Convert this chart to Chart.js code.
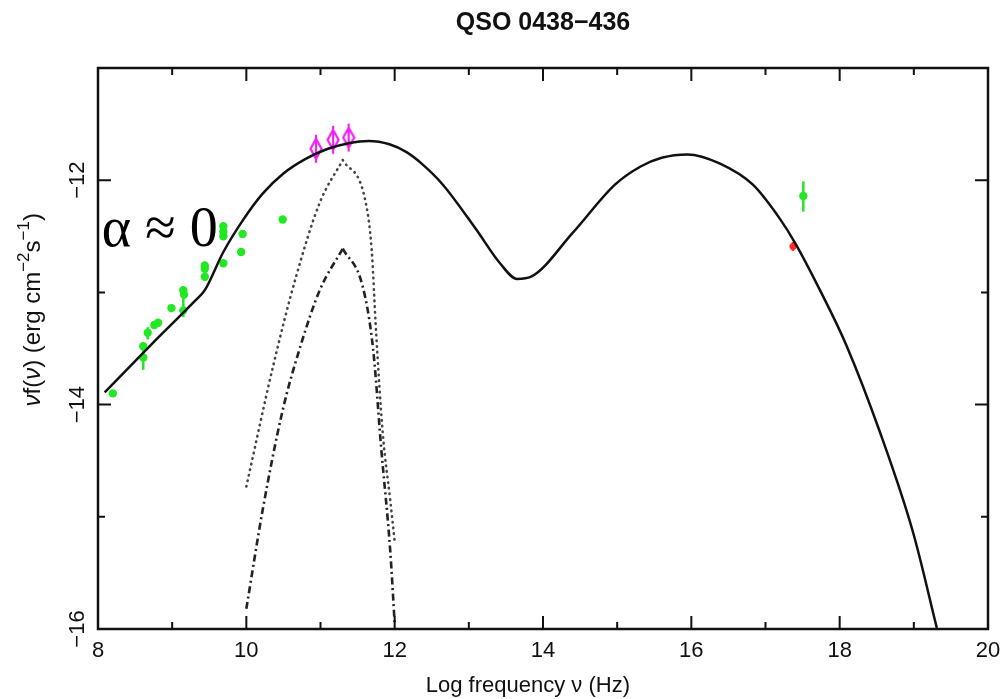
<!DOCTYPE html>
<html>
<head>
<meta charset="utf-8">
<script src="https://cdn.jsdelivr.net/npm/chart.js@4.4.1/dist/chart.umd.min.js"></script>
<style>
  html, body { margin: 0; padding: 0; background: #ffffff; }
  #wrap { width: 1004px; height: 699px; }
</style>
</head>
<body>
<div id="wrap"><canvas id="sed" width="1004" height="699"></canvas></div>
<script>
// ---- labels ----
const chartTitle = 'QSO 0438\u2212436';
const xAxisTitle = 'Log frequency \u03bd (Hz)';
const slopeNote = '\u03b1 \u2248 0';

// ---- axis ranges / tick values ----
const xMin = 8, xMax = 20;
const yMin = -16, yMax = -11;
const xLabelValues = [8, 10, 12, 14, 16, 18, 20];
const yLabelValues = [-16, -14, -12];

// ---- total model SED (solid) ----
const modelX = [8.09, 8.77, 9.30, 9.44, 9.69, 9.95, 10.22, 10.50, 10.80, 11.10, 11.38, 11.65, 11.93, 12.16, 12.36, 12.65,
                13.10, 13.42, 13.65, 13.84, 14.40, 14.97, 15.31, 15.60, 15.95, 16.38, 16.83, 17.19, 17.40, 17.75,
                18.09, 18.54, 18.99, 19.31];
const modelY = [-13.89, -13.43, -13.08, -12.98, -12.64, -12.36, -12.12, -11.94, -11.81, -11.72, -11.67, -11.65, -11.68, -11.75, -11.85, -12.04,
                -12.44, -12.74, -12.88, -12.86, -12.47, -12.04, -11.88, -11.80, -11.77, -11.85, -12.04, -12.34, -12.56, -13.00,
                -13.47, -14.24, -15.14, -15.99];

// ---- component (dotted) ----
const dotX = [10.00, 10.36, 10.67, 10.99, 11.30, 11.60, 11.69, 11.75, 11.84, 11.94, 12.00];
const dotY = [-14.73, -13.66, -12.86, -12.20, -11.82, -12.17, -12.62, -13.36, -14.26, -14.85, -15.22];

// ---- component (dash-dot) ----
const dashDotX = [10.00, 10.22, 10.49, 10.72, 10.99, 11.30, 11.57, 11.71, 11.82, 11.94, 12.00];
const dashDotY = [-15.82, -14.94, -14.05, -13.50, -12.98, -12.61, -12.95, -13.51, -14.40, -15.30, -15.95];

// ---- radio / gamma photometry (green) ----
const greenX = [8.20, 8.61, 8.61, 8.67, 8.76, 8.81, 8.99, 9.15, 9.16, 9.15, 9.44, 9.44, 9.44,
                9.69, 9.69, 9.69, 9.69, 9.93, 9.95, 10.49, 17.51];
const greenY = [-13.90, -13.48, -13.58, -13.36, -13.29, -13.27, -13.14, -12.98, -13.02, -13.16, -12.76, -12.79, -12.86,
                -12.41, -12.46, -12.50, -12.74, -12.64, -12.48, -12.35, -12.14];
const greenLo = [null, null, -13.69, -13.42, null, null, null, null, null, -13.22, null, null, null,
                 null, null, null, null, null, null, null, -12.28];
const greenHi = [null, null, -13.48, -13.31, null, null, null, null, null, -12.97, null, null, null,
                 null, null, null, null, null, null, null, -12.01];

// ---- mm photometry (magenta) ----
const mmX = [10.94, 11.17, 11.38];
const mmY = [-11.72, -11.64, -11.62];

// ---- X-ray point (red) ----
const xrayX = [17.37];
const xrayY = [-12.59];
const xrayLo = [-12.63];
const xrayHi = [-12.55];

// ---- helpers ----
const pts = (xs, ys) => xs.map((x, i) => ({ x: x, y: ys[i] }));
const minus = s => String(s).replace('-', '\u2212');
// split a peaked curve into its rising and falling branches (both keep the apex)
function branches(xs, ys) {
  let k = 0;
  ys.forEach((v, i) => { if (v > ys[k]) k = i; });
  const all = pts(xs, ys);
  return [all.slice(0, k + 1), all.slice(k)];
}
const dotParts = branches(dotX, dotY);
const dashDotParts = branches(dashDotX, dashDotY);

const SANS = '"Liberation Sans", Arial, sans-serif';

// open elongated diamond with a vertical bar through it
function diamondMarker(color) {
  const c = document.createElement('canvas');
  c.width = 14; c.height = 30;
  const g = c.getContext('2d');
  g.strokeStyle = color;
  g.lineWidth = 2.2;
  g.beginPath();
  g.moveTo(7, 1); g.lineTo(7, 29);
  g.moveTo(7, 5); g.lineTo(12.5, 15); g.lineTo(7, 25); g.lineTo(1.5, 15); g.closePath();
  g.stroke();
  return c;
}

// vertical error bars for datasets carrying errLo / errHi
const errorBarPlugin = {
  id: 'errorBars',
  beforeDatasetsDraw(chart) {
    const ctx = chart.ctx;
    const xs = chart.scales.x, ys = chart.scales.y;
    chart.data.datasets.forEach(ds => {
      if (!ds.errLo) return;
      ctx.save();
      ctx.strokeStyle = ds.barColor;
      ctx.lineWidth = 2.5;
      ds.data.forEach((p, i) => {
        if (ds.errLo[i] == null) return;
        const px = xs.getPixelForValue(p.x);
        ctx.beginPath();
        ctx.moveTo(px, ys.getPixelForValue(ds.errLo[i]));
        ctx.lineTo(px, ys.getPixelForValue(ds.errHi[i]));
        ctx.stroke();
      });
      ctx.restore();
    });
  }
};

// box round the plot with inward major / minor ticks on all four sides
const framePlugin = {
  id: 'frame',
  afterDatasetsDraw(chart) {
    const { ctx, chartArea: a } = chart;
    const xs = chart.scales.x, ys = chart.scales.y;
    const major = 13, minorLen = 7;
    ctx.save();
    ctx.strokeStyle = '#111';
    ctx.lineWidth = 2.5;
    ctx.strokeRect(a.left, a.top, a.right - a.left, a.bottom - a.top);
    ctx.lineWidth = 2;
    ctx.beginPath();
    xs.ticks.forEach(t => {
      const px = xs.getPixelForValue(t.value);
      const len = (t.value % 2 === 0) ? major : minorLen;
      ctx.moveTo(px, a.bottom); ctx.lineTo(px, a.bottom - len);
      ctx.moveTo(px, a.top); ctx.lineTo(px, a.top + len);
    });
    ys.ticks.forEach(t => {
      const py = ys.getPixelForValue(t.value);
      const len = (t.value % 2 === 0) ? major : minorLen;
      ctx.moveTo(a.left, py); ctx.lineTo(a.left + len, py);
      ctx.moveTo(a.right, py); ctx.lineTo(a.right - len, py);
    });
    ctx.stroke();
    ctx.restore();
  }
};

// axis titles (y title carries superscripts) and the spectral-index note
const textPlugin = {
  id: 'texts',
  afterDraw(chart) {
    const { ctx, chartArea: a } = chart;
    const xs = chart.scales.x, ys = chart.scales.y;

    // note anchored in data space
    ctx.save();
    ctx.fillStyle = '#000';
    ctx.font = '56px "Liberation Serif", "DejaVu Serif", serif';
    ctx.textBaseline = 'alphabetic';
    ctx.textAlign = 'left';
    ctx.fillText(slopeNote, xs.getPixelForValue(8.05), ys.getPixelForValue(-12.59));
    ctx.restore();

    // x title
    ctx.save();
    ctx.fillStyle = '#111';
    ctx.font = '22px ' + SANS;
    ctx.textAlign = 'center';
    ctx.textBaseline = 'middle';
    ctx.fillText(xAxisTitle, a.left + (a.right - a.left) * 0.483, 686);
    ctx.restore();

    // rotated y title
    const base = '24px ' + SANS;
    const ital = 'italic 24px ' + SANS;
    const sup = '17px ' + SANS;
    const parts = [
      { t: '\u03bd', f: ital, dy: 0 },
      { t: 'f(', f: base, dy: 0 },
      { t: '\u03bd', f: ital, dy: 0 },
      { t: ') (erg cm', f: base, dy: 0 },
      { t: '\u22122', f: sup, dy: -9 },
      { t: 's', f: base, dy: 0 },
      { t: '\u22121', f: sup, dy: -9 },
      { t: ')', f: base, dy: 0 }
    ];
    ctx.save();
    ctx.fillStyle = '#111';
    ctx.textBaseline = 'middle';
    ctx.textAlign = 'left';
    let total = 0;
    parts.forEach(p => { ctx.font = p.f; p.w = ctx.measureText(p.t).width; total += p.w; });
    ctx.translate(33, a.top + (a.bottom - a.top) * 0.431);
    ctx.rotate(-Math.PI / 2);
    let x = -total / 2;
    parts.forEach(p => { ctx.font = p.f; ctx.fillText(p.t, x, p.dy); x += p.w; });
    ctx.restore();
  }
};

const dotStyle = {
  showLine: true, borderColor: '#444', borderWidth: 2.6, borderDash: [0.5, 5.2],
  borderCapStyle: 'round', pointRadius: 0, cubicInterpolationMode: 'monotone'
};
const dashDotStyle = {
  showLine: true, borderColor: '#222', borderWidth: 2.6, borderDash: [7, 3.5, 2, 3.5],
  pointRadius: 0, cubicInterpolationMode: 'monotone'
};

new Chart(document.getElementById('sed'), {
  type: 'scatter',
  data: {
    datasets: [
      {
        label: 'model', data: pts(modelX, modelY), showLine: true,
        borderColor: '#111', borderWidth: 2.5, pointRadius: 0,
        cubicInterpolationMode: 'monotone'
      },
      Object.assign({ label: 'dotted rise', data: dotParts[0] }, dotStyle),
      Object.assign({ label: 'dotted fall', data: dotParts[1] }, dotStyle),
      Object.assign({ label: 'dash-dot rise', data: dashDotParts[0] }, dashDotStyle),
      Object.assign({ label: 'dash-dot fall', data: dashDotParts[1] }, dashDotStyle),
      {
        label: 'green', data: pts(greenX, greenY), showLine: false,
        pointRadius: 4.2, pointBackgroundColor: '#22e822', pointBorderColor: '#22e822', pointBorderWidth: 0,
        errLo: greenLo, errHi: greenHi, barColor: '#22e822'
      },
      {
        label: 'red', data: pts(xrayX, xrayY), showLine: false,
        pointRadius: 3.5, pointBackgroundColor: '#ff2a2a', pointBorderColor: '#ff2a2a', pointBorderWidth: 0,
        errLo: xrayLo, errHi: xrayHi, barColor: '#ff2a2a'
      },
      {
        label: 'magenta', data: pts(mmX, mmY), showLine: false,
        pointStyle: diamondMarker('#f020f0'), pointRadius: 8
      }
    ]
  },
  options: {
    responsive: false,
    animation: false,
    devicePixelRatio: 1,
    layout: { padding: { left: 0, right: 16, top: 0, bottom: 0 } },
    plugins: {
      legend: { display: false },
      tooltip: { enabled: false },
      title: {
        display: true, text: chartTitle, fullSize: false, color: '#111',
        font: { family: SANS, size: 25, weight: 'bold', lineHeight: 1.2 },
        padding: { top: 8, bottom: 30 }
      }
    },
    scales: {
      x: {
        type: 'linear', min: xMin, max: xMax,
        grid: { display: false }, border: { display: false },
        ticks: {
          stepSize: 1, color: '#111', padding: 1, maxRotation: 0, autoSkip: false,
          font: { family: SANS, size: 22 },
          callback: v => xLabelValues.includes(v) ? minus(v) : ''
        },
        afterFit: s => { s.height = 70; }
      },
      y: {
        type: 'linear', min: yMin, max: yMax,
        grid: { display: false }, border: { display: false },
        ticks: {
          stepSize: 1, color: '#111', padding: -7, minRotation: 90, maxRotation: 90,
          crossAlign: 'center', autoSkip: false,
          font: { family: SANS, size: 22 },
          callback: v => yLabelValues.includes(v) ? minus(v) : ''
        },
        afterFit: s => { s.width = 98; }
      }
    }
  },
  plugins: [errorBarPlugin, framePlugin, textPlugin]
});
</script>
</body>
</html>
